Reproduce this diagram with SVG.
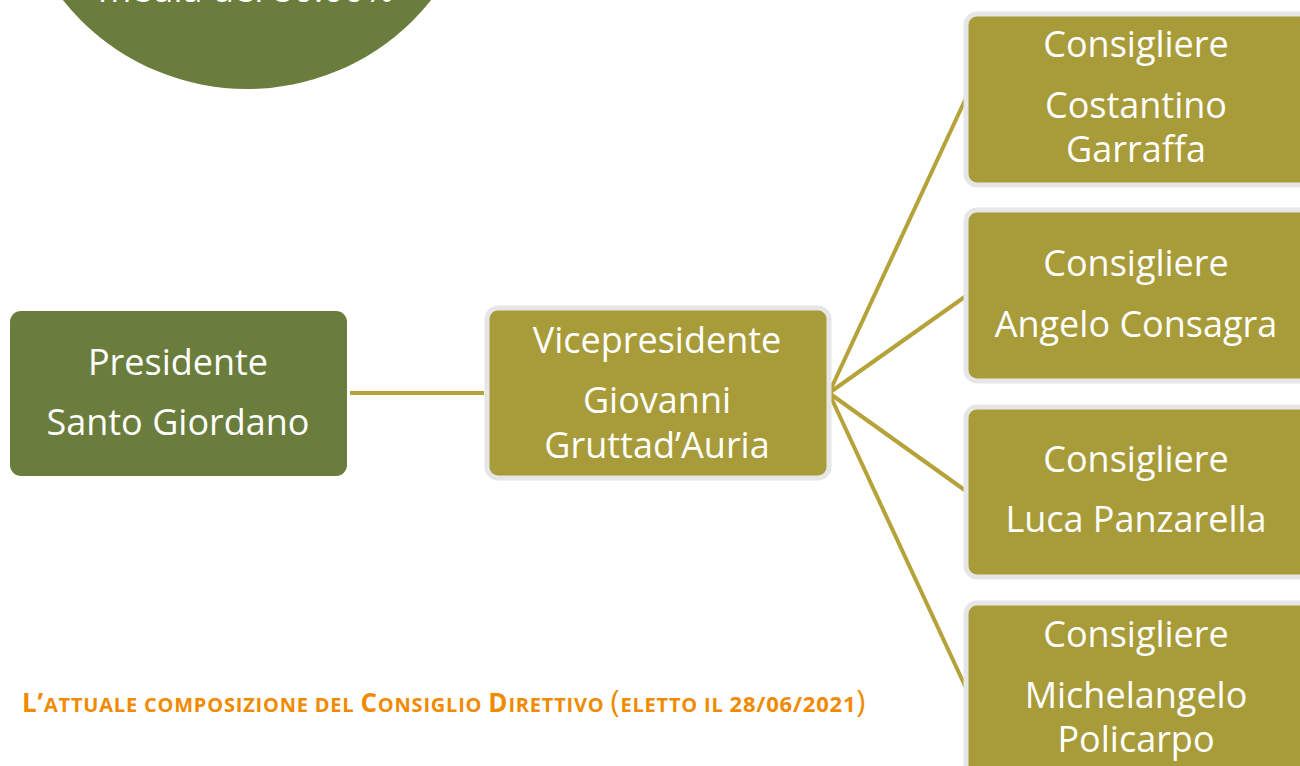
<svg xmlns="http://www.w3.org/2000/svg" width="1300" height="766" viewBox="0 0 1300 766">
<defs>
<style>
.t{font-family:"Open Sans","Noto Sans","Liberation Sans",sans-serif;fill:#ffffff;font-size:36px;text-anchor:middle}
.pres{fill:#6b7d3c}
.box{fill:#a89c3a;stroke:#e6e6e6;stroke-width:5}
.conn{stroke:#b5a33a;stroke-width:4;fill:none}
.cap{font-family:"Open Sans","Noto Sans","Liberation Sans",sans-serif;font-weight:bold;fill:#f08a00;font-size:20px;letter-spacing:0.8px}
.big{font-size:26px}
.num{font-size:22px}
.par{font-size:31px;font-weight:normal}
</style>
</defs>
<rect width="1300" height="766" fill="#ffffff"/>
<g id="circle">
<circle cx="247" cy="-146" r="235" fill="#6b7d3c"/>
<text class="t" x="246" y="2" font-size="32">media del 80.00%</text>
</g>
<g id="connectors">
<line class="conn" x1="350" y1="393" x2="484" y2="393"/>
<line class="conn" x1="829" y1="393" x2="966" y2="98"/>
<line class="conn" x1="829" y1="393" x2="966" y2="296"/>
<line class="conn" x1="829" y1="393" x2="966" y2="491"/>
<line class="conn" x1="829" y1="393" x2="966" y2="688"/>
</g>
<g id="presidente">
<rect class="pres" x="10" y="311" width="337" height="165" rx="11"/>
<text class="t" x="178" y="375">Presidente</text>
<text class="t" x="178" y="435">Santo Giordano</text>
</g>
<g id="vicepresidente">
<rect class="box" x="487" y="308" width="342" height="170" rx="11"/>
<text class="t" x="657" y="353">Vicepresidente</text>
<text class="t" x="657" y="413">Giovanni</text>
<text class="t" x="657" y="458">Gruttad’Auria</text>
</g>
<g id="consigliere1">
<rect class="box" x="966" y="14" width="350" height="171" rx="11"/>
<text class="t" x="1136" y="57">Consigliere</text>
<text class="t" x="1136" y="118">Costantino</text>
<text class="t" x="1136" y="162">Garraffa</text>
</g>
<g id="consigliere2">
<rect class="box" x="966" y="210" width="350" height="171" rx="11"/>
<text class="t" x="1136" y="276">Consigliere</text>
<text class="t" x="1136" y="337">Angelo Consagra</text>
</g>
<g id="consigliere3">
<rect class="box" x="966" y="407" width="350" height="170" rx="11"/>
<text class="t" x="1136" y="472">Consigliere</text>
<text class="t" x="1136" y="532">Luca Panzarella</text>
</g>
<g id="consigliere4">
<rect class="box" x="966" y="603" width="350" height="180" rx="11"/>
<text class="t" x="1136" y="647">Consigliere</text>
<text class="t" x="1136" y="708">Michelangelo</text>
<text class="t" x="1136" y="752">Policarpo</text>
</g>
<g id="caption">
<text class="cap" x="22" y="712"><tspan class="big">L’</tspan>ATTUALE COMPOSIZIONE DEL <tspan class="big">C</tspan>ONSIGLIO <tspan class="big">D</tspan>IRETTIVO <tspan class="par">(</tspan>ELETTO IL <tspan class="num">28/06/2021</tspan><tspan class="par">)</tspan></text>
</g>
</svg>
